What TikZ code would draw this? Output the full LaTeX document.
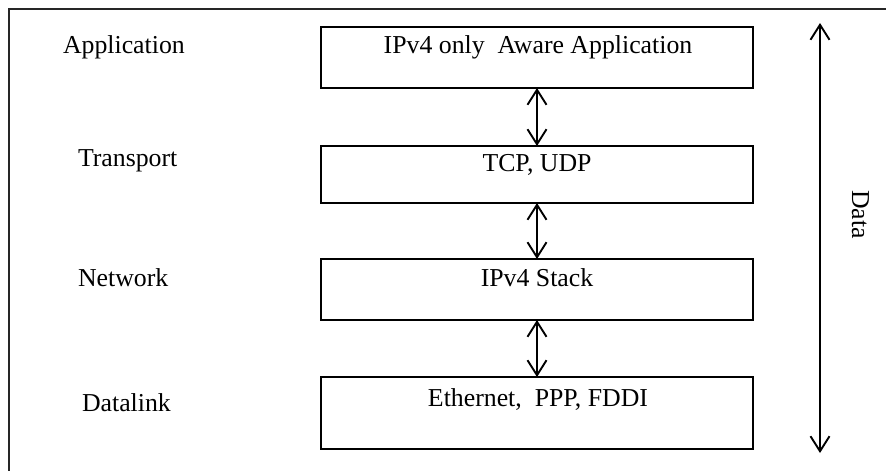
\documentclass[tikz,border=0pt]{standalone}
\usepackage{fontspec}
\setmainfont{Liberation Serif}
\usetikzlibrary{arrows.meta}
\begin{document}
\begin{tikzpicture}[x=1pt, y=-1pt,
  every node/.style={inner sep=0pt, outer sep=0pt, font=\fontsize{25.8}{31}\selectfont},
  layerbox/.style={draw, line width=1.8pt, minimum width=432pt},
  tag/.style={anchor=base west},
  boxtext/.style={anchor=base},
  barb/.tip={Straight Barb[length=15pt,width=19pt]},
  flow/.style={line width=1.9pt, barb-barb}]
  \useasboundingbox (0,0) rectangle (886,471);
  \clip (0,0) rectangle (886,471);

  % frame (only its top and left sides fall inside the page)
  \draw[line width=2pt, black!85] (900,9) -- (9,9) -- (9,490);

  % layer names
  \node[tag] (lapp) at (63,53)  {Application};
  \node[tag] (ltra) at (78,166) {Transport};
  \node[tag] (lnet) at (78,286) {Network};
  \node[tag] (llnk) at (82,411) {Datalink};

  % protocol boxes
  \node[layerbox, minimum height=61pt] (b1) at (537,57.5)  {};
  \node[layerbox, minimum height=57pt] (b2) at (537,174.5) {};
  \node[layerbox, minimum height=61pt] (b3) at (537,289.5) {};
  \node[layerbox, minimum height=72pt] (b4) at (537,413)   {};

  \node[boxtext] (t1) at (538,53)  {IPv4 only\ \ Aware Application};
  \node[boxtext] (t2) at (537,171) {TCP, UDP};
  \node[boxtext] (t3) at (537,286) {IPv4 Stack};
  \node[boxtext] (t4) at (538,406) {Ethernet,\ \ PPP, FDDI};

  % arrows between layers
  \draw[flow] (b1.south) -- (b2.north);
  \draw[flow] (b2.south) -- (b3.north);
  \draw[flow] (b3.south) -- (b4.north);

  % data flow arrow on the right
  \coordinate (dtop) at (820,23);
  \coordinate (dbot) at (820,453);
  \draw[flow] (dtop) -- (dbot);
  \node[rotate=-90, anchor=base west] (data) at (852,190) {Data};
\end{tikzpicture}
\end{document}
